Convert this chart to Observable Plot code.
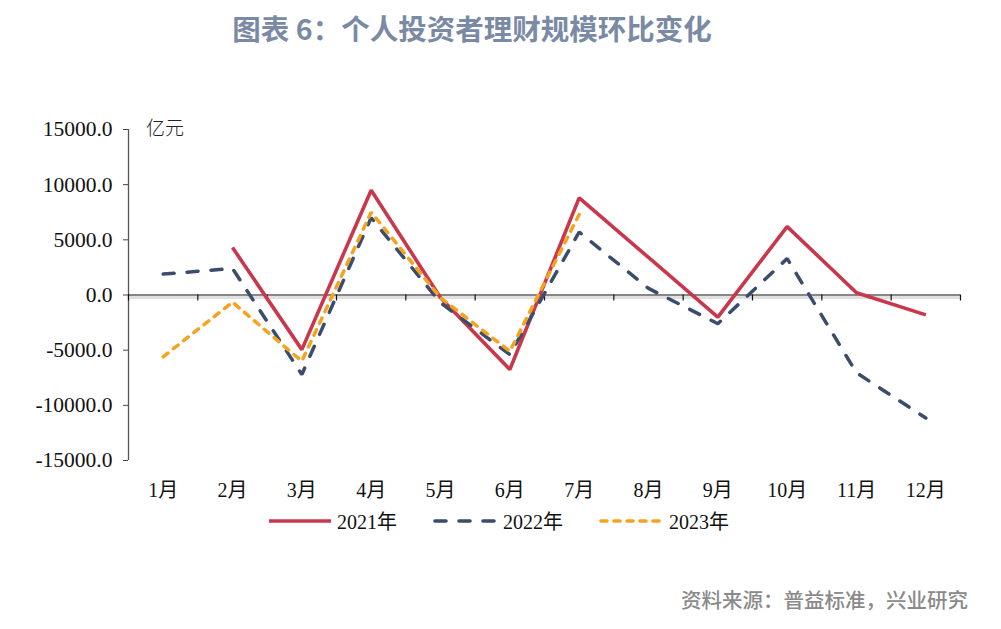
<!DOCTYPE html>
<html>
<head>
<meta charset="utf-8">
<script src="https://cdn.jsdelivr.net/npm/d3@7"></script>
<script src="https://cdn.jsdelivr.net/npm/@observablehq/plot@0.6"></script>
<style>
  html, body { margin: 0; padding: 0; background: #fff; }
  #wrap { position: relative; width: 1001px; height: 629px; overflow: hidden; background: #fff; }
  #title { position: absolute; left: 0; top: 7px; width: 944px; text-align: center;
    font-family: "Noto Sans CJK SC", "Noto Sans", sans-serif; font-weight: 700; font-size: 28.5px; color: #7a8aa5; }
  #unit { position: absolute; left: 146px; top: 113px; font-family: "Noto Sans CJK SC", sans-serif;
    font-weight: 300; font-size: 19px; color: #222; }
  #chart { position: absolute; left: 0; top: 100px; }
  #legend { position: absolute; left: 267px; top: 506px; display: flex; align-items: center; }
  .item { display: flex; align-items: center; width: 166px; }
  .item span { font-family: "Liberation Serif", "Noto Sans CJK SC", serif; font-size: 20px; color: #111; margin-left: 4px; }
  #source { position: absolute; right: 33px; top: 584px; font-family: "Noto Sans CJK SC", sans-serif;
    font-weight: 500; font-size: 20.5px; color: #8a8a8a; }
</style>
</head>
<body>
<div id="wrap">
  <div id="title">图表 6：个人投资者理财规模环比变化</div>
  <div id="chart"></div>
  <div id="unit">亿元</div>
  <div id="legend"></div>
  <div id="source">资料来源：普益标准，兴业研究</div>
</div>
<script>
const months = ["1月","2月","3月","4月","5月","6月","7月","8月","9月","10月","11月","12月"];
const yTicks = [-15000, -10000, -5000, 0, 5000, 10000, 15000];
const seriesNames = ["2021年", "2022年", "2023年"];
const v2021 = [null, 4300, -4950, 9500, -250, -6750, 8800, 3400, -2000, 6200, 200, -1800];
const v2022 = [1900, 2400, -7200, 7000, -700, -5400, 5700, 600, -2600, 3300, -7050, -11150];
const v2023 = [-5600, -650, -6000, 7500, -250, -5100, 7300, null, null, null, null, null];
const colors = ["#c8374c", "#3b4d6c", "#f5a31f"];
const dashes = [null, "11,13", "6,7"];

const allValues = [v2021, v2022, v2023];
const data = [];
allValues.forEach((vals, s) => {
  vals.forEach((v, i) => data.push({series: seriesNames[s], m: i + 1, v}));
});
const bounds = d3.range(0.5, months.length + 1, 1);

const serif = "'Liberation Serif', 'Noto Sans CJK SC', serif";

const plot = Plot.plot({
  width: 1001,
  height: 410,
  marginTop: 29,
  marginBottom: 50,
  marginLeft: 128,
  marginRight: 41,
  style: {background: "transparent", fontFamily: serif, fontSize: "20px", color: "#111"},
  x: {type: "linear", domain: [0.5, months.length + 0.5]},
  y: {domain: [-15000, 15000]},
  marks: [
    Plot.axisY({ticks: yTicks, tickFormat: d => d.toFixed(1), tickSize: 5, tickPadding: 11,
      label: null, fontSize: 21.5, fontFamily: serif, stroke: "#444", fill: "#111"}),
    Plot.axisX({ticks: d3.range(1, months.length + 1), tickFormat: d => months[d - 1],
      tickSize: 0, tickPadding: 22, label: null, fontSize: 20, fontFamily: serif, fill: "#111"}),
    Plot.ruleX([bounds[0]], {y1: -15000, y2: 15000, stroke: "#555", strokeWidth: 1.3}),
    Plot.ruleY([0], {stroke: "#e0e0e0", strokeWidth: 3, dy: 2.5}),
    Plot.ruleY([0], {stroke: "#111", strokeWidth: 1.2}),
    Plot.ruleX(bounds, {x: d => d, y1: 0, y2: 0, insetBottom: -6, stroke: "#111", strokeWidth: 1.2}),
    ...seriesNames.map((name, s) => Plot.line(data.filter(d => d.series === name), {
      x: "m", y: "v", stroke: colors[s], strokeWidth: s === 0 ? 3.6 : 3.5,
      strokeDasharray: dashes[s], strokeLinecap: s === 0 ? "butt" : "round", strokeLinejoin: "miter"
    }))
  ]
});
document.getElementById("chart").appendChild(plot);

const legend = document.getElementById("legend");
seriesNames.forEach((name, s) => {
  const item = document.createElement("div");
  item.className = "item";
  const dash = dashes[s] ? `stroke-dasharray="${dashes[s]}" stroke-linecap="round"` : "";
  item.innerHTML = `<svg width="66" height="12"><line x1="2" y1="6" x2="64" y2="6" stroke="${colors[s]}" stroke-width="3.6" ${dash}/></svg><span>${name}</span>`;
  legend.appendChild(item);
});
</script>
</body>
</html>
